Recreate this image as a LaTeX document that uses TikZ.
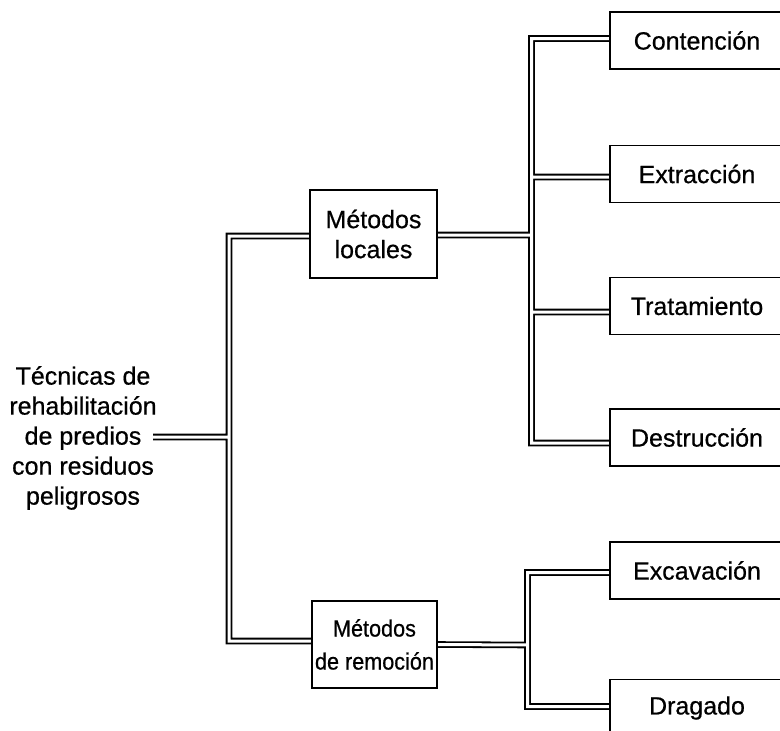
\documentclass[tikz,border=0pt]{standalone}
\usepackage{fontspec}
\setmainfont{Liberation Sans}[FakeBold=0.6]
\newfontfamily\condfont{Liberation Sans}[FakeStretch=0.92, FakeBold=0.6]
\pgfdeclarelayer{background}
\pgfsetlayers{background,main}
\tikzset{
  box/.style={draw=black, line width=1.6pt, fill=white, inner sep=0pt,
    font=\fontsize{25}{30}\selectfont, align=center},
  leaf/.style={box, minimum width=174pt, minimum height=57pt},
  mid/.style={box, minimum width=127pt, minimum height=88pt},
  conn/.style={draw=white, line width=3pt, line join=miter,
    preaction={draw=black, line width=6.6pt, line join=miter}}
}
\begin{document}
\begin{tikzpicture}[x=1pt, y=-1pt]
\useasboundingbox (0,0) rectangle (780,731);
% root text
\node[align=center, font=\fontsize{25}{30}\selectfont, inner sep=0pt] (root) at (83,438)
  {Técnicas de\\rehabilitación\\de predios\\con residuos\\peligrosos};
% middle boxes
\node[mid] (ml) at (373.5,234) {Métodos\\locales};
\node[mid, minimum width=125pt, minimum height=87pt, font=\condfont\fontsize{23.5}{33}\selectfont] (mr) at (374.5,644.5) {Métodos\\de remoción};
% leaves
\node[leaf] (c1) at (697,40.5) {Contención};
\node[leaf] (c2) at (697,174) {Extracción};
\node[leaf] (c3) at (697,306) {Tratamiento};
\node[leaf] (c4) at (697,437.5) {Destrucción};
\node[leaf] (e1) at (697,570.5) {Excavación};
\node[leaf] (e2) at (697,708) {Dragado};
% junction coordinates
\coordinate (rj) at (153,437);
\coordinate (b1) at (229,437);
\coordinate (b2) at (531.5,235);
\coordinate (b3) at (527.5,645);
\begin{pgfonlayer}{background}
\path[conn]
  (rj) -- (b1)
  ([yshift=-2pt]ml.west) -| (b1) |- ([yshift=3.5pt]mr.west)
  ([yshift=-1pt]ml.east) -- (b2)
  ([yshift=2pt]c1.west) -| (b2) |- ([yshift=-5.5pt]c4.west)
  ([yshift=-3pt]c2.west) -| (b2)
  ([yshift=-6pt]c3.west) -| (b2)
  (mr.east) -- (b3)
  ([yshift=-2pt]e1.west) -| (b3) |- ([yshift=1.5pt]e2.west);
\end{pgfonlayer}
\end{tikzpicture}
\end{document}
